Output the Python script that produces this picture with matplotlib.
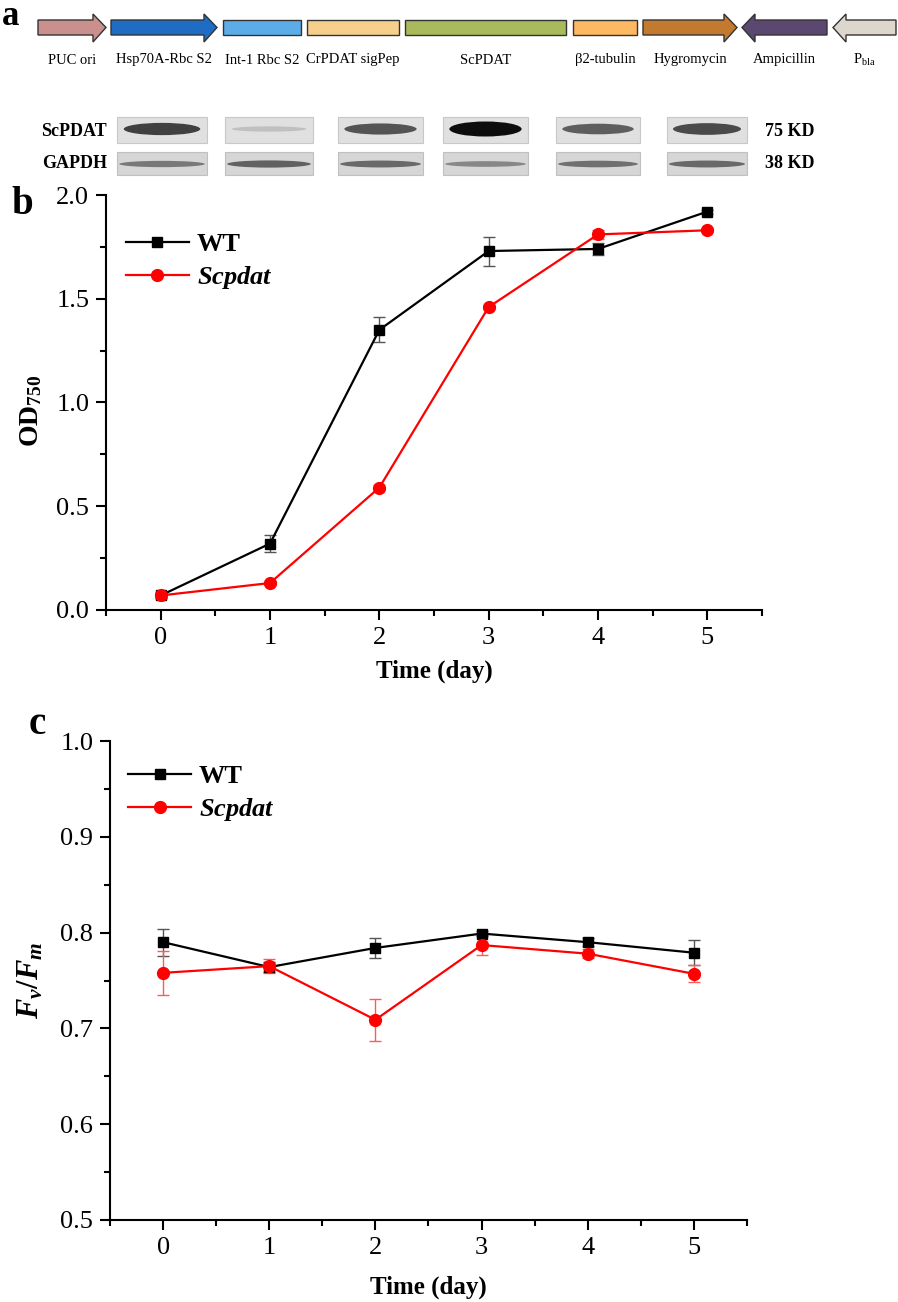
import numpy as np
import matplotlib
matplotlib.use('Agg')
import matplotlib.pyplot as plt
from matplotlib.patches import Rectangle, Polygon, Ellipse
from matplotlib.ticker import MultipleLocator

plt.rcParams['font.family'] = ['Liberation Serif', 'DejaVu Serif']
plt.rcParams['mathtext.fontset'] = 'custom'
plt.rcParams['mathtext.rm'] = 'Liberation Serif:bold'
plt.rcParams['mathtext.it'] = 'Liberation Serif:bold:italic'
plt.rcParams['mathtext.bf'] = 'Liberation Serif:bold'

# ---- data ----
days = [0, 1, 2, 3, 4, 5]

od_wt = [0.07, 0.32, 1.35, 1.73, 1.74, 1.92]
od_wt_err = [0.01, 0.04, 0.06, 0.07, 0.03, 0.01]
od_scp = [0.07, 0.13, 0.59, 1.46, 1.81, 1.83]
od_scp_err = [0.01, 0.01, 0.01, 0.01, 0.02, 0.01]

fvfm_wt = [0.790, 0.764, 0.784, 0.799, 0.790, 0.779]
fvfm_wt_err = [0.014, 0.005, 0.010, 0.003, 0.004, 0.013]
fvfm_scp = [0.758, 0.765, 0.709, 0.787, 0.778, 0.757]
fvfm_scp_err = [0.023, 0.007, 0.022, 0.010, 0.005, 0.009]

genes = ['PUC ori', 'Hsp70A-Rbc S2', 'Int-1 Rbc S2', 'CrPDAT sigPep', 'ScPDAT',
         '\u03b22-tubulin', 'Hygromycin', 'Ampicillin', r'P$_{\mathregular{bla}}$']
gene_kind = ['right', 'right', 'box', 'box', 'box', 'box', 'right', 'left', 'left']
gene_colors = ['#c9908d', '#1f6cc4', '#5cace8', '#f6cf8c', '#a9ba5c',
               '#fdb862', '#c47a2e', '#5b4870', '#dcd6cc']

scpdat_band = [0.75, 0.12, 0.65, 1.0, 0.6, 0.7]
gapdh_band = [0.55, 0.7, 0.65, 0.45, 0.6, 0.65]

# ---- layout (pixels) ----
gene_x = [(38, 106), (111, 217), (223, 301), (307, 399), (405, 566),
          (573, 637), (643, 737), (742, 827), (833, 896)]
lane_x = [(117, 207), (225, 313), (338, 423), (443, 528), (556, 640), (667, 747)]

fig = plt.figure(figsize=(8.98, 13.02), dpi=100)
ov = fig.add_axes([0, 0, 1, 1])
ov.set_xlim(0, 898)
ov.set_ylim(1302, 0)
ov.axis('off')

# panel a: construct
for name, kind, col, (x0, x1) in zip(genes, gene_kind, gene_colors, gene_x):
    if kind == 'box':
        ov.add_patch(Rectangle((x0, 20), x1 - x0, 15, facecolor=col,
                               edgecolor='#333333', lw=1))
    else:
        h = 13
        if kind == 'right':
            pts = [(x0, 20), (x1 - h, 20), (x1 - h, 14), (x1, 27.5),
                   (x1 - h, 42), (x1 - h, 35), (x0, 35)]
        else:
            pts = [(x1, 20), (x0 + h, 20), (x0 + h, 14), (x0, 27.5),
                   (x0 + h, 42), (x0 + h, 35), (x1, 35)]
        ov.add_patch(Polygon(pts, closed=True, facecolor=col,
                             edgecolor='#333333', lw=1))
    ov.text((x0 + x1) / 2, 60, name, ha='center', va='center', fontsize=10.5)

# western blot
for (x0, x1), s, g in zip(lane_x, scpdat_band, gapdh_band):
    ov.add_patch(Rectangle((x0, 117), x1 - x0, 26, facecolor='#e0e0e0',
                           edgecolor='#c8c8c8', lw=0.8))
    ov.add_patch(Ellipse(((x0 + x1) / 2, 129), (x1 - x0) * 0.85, 4 + 11 * s,
                         facecolor=str(0.85 - 0.8 * s), edgecolor='none'))
    ov.add_patch(Rectangle((x0, 152), x1 - x0, 23, facecolor='#d6d6d6',
                           edgecolor='#c0c0c0', lw=0.8))
    ov.add_patch(Ellipse(((x0 + x1) / 2, 164), (x1 - x0) * 0.95, 3 + 6 * g,
                         facecolor=str(0.8 - 0.6 * g), edgecolor='none'))

ov.text(107, 131, 'ScPDAT', ha='right', va='center', fontsize=13, fontweight='bold')
ov.text(107, 163, 'GAPDH', ha='right', va='center', fontsize=13, fontweight='bold')
ov.text(765, 131, '75 KD', ha='left', va='center', fontsize=13, fontweight='bold')
ov.text(765, 163, '38 KD', ha='left', va='center', fontsize=13, fontweight='bold')

ov.text(11, 0, 'a', ha='center', va='top', fontsize=25, fontweight='bold')
ov.text(22, 204, 'b', ha='center', va='center', fontsize=28, fontweight='bold')
ov.text(37, 724, 'c', ha='center', va='center', fontsize=28, fontweight='bold')


def style_axes(ax, ymin, ymax, ymaj, ymin_step):
    ax.set_xlim(-0.5, 5.5)
    ax.set_ylim(ymin, ymax)
    ax.set_xticks(days)
    ax.xaxis.set_minor_locator(MultipleLocator(0.5))
    ax.yaxis.set_major_locator(MultipleLocator(ymaj))
    ax.yaxis.set_minor_locator(MultipleLocator(ymin_step))
    for s in ['top', 'right']:
        ax.spines[s].set_visible(False)
    for s in ['left', 'bottom']:
        ax.spines[s].set_linewidth(1.5)
    ax.tick_params(which='major', direction='out', length=7, width=1.5,
                   labelsize=19, pad=5)
    ax.tick_params(which='minor', direction='out', length=4, width=1.5)
    ax.set_xlabel('Time (day)', fontsize=18, fontweight='bold')


def draw_series(ax, y_wt, e_wt, y_scp, e_scp):
    ax.errorbar(days, y_wt, yerr=e_wt, fmt='none', ecolor='#555555',
                elinewidth=1, capsize=4, capthick=1)
    ax.errorbar(days, y_scp, yerr=e_scp, fmt='none', ecolor='#ff5a5a',
                elinewidth=1, capsize=4, capthick=1)
    ax.plot(days, y_wt, color='black', marker='s', ms=7.5, lw=1.6, label='WT')
    ax.plot(days, y_scp, color='red', marker='o', ms=8.5, lw=1.6, label='$Scpdat$')


# panel b
axb = fig.add_axes([106 / 898, 1 - 610 / 1302, 656 / 898, 415 / 1302])
draw_series(axb, od_wt, od_wt_err, od_scp, od_scp_err)
style_axes(axb, 0.0, 2.0, 0.5, 0.25)
axb.set_ylabel(r'$\mathrm{OD}_{750}$', fontsize=20)
axb.yaxis.set_label_coords(-0.094, 0.48)
axb.xaxis.set_label_coords(0.5, -0.12)
axb.legend(loc='upper left', bbox_to_anchor=(0.03, 0.91), frameon=False,
           prop={'size': 19, 'weight': 'bold'}, handlelength=2.4,
           handletextpad=0.3, labelspacing=0.3, borderpad=0, borderaxespad=0)

# panel c
axc = fig.add_axes([110 / 898, 1 - 1220 / 1302, 637 / 898, 479 / 1302])
draw_series(axc, fvfm_wt, fvfm_wt_err, fvfm_scp, fvfm_scp_err)
style_axes(axc, 0.5, 1.0, 0.1, 0.05)
axc.set_ylabel(r'$F_v/F_m$', fontsize=22)
axc.yaxis.set_label_coords(-0.102, 0.5)
axc.xaxis.set_label_coords(0.5, -0.115)
axc.legend(loc='upper left', bbox_to_anchor=(0.028, 0.95), frameon=False,
           prop={'size': 19, 'weight': 'bold'}, handlelength=2.4,
           handletextpad=0.3, labelspacing=0.3, borderpad=0, borderaxespad=0)

fig.savefig('out.png', dpi=100)
